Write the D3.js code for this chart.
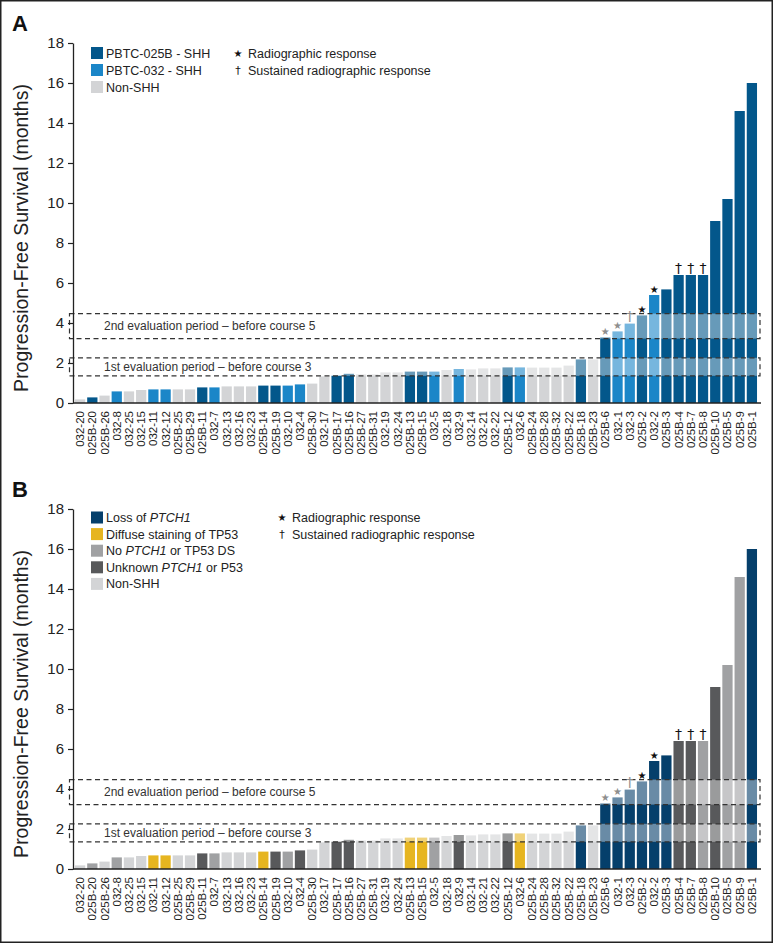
<!DOCTYPE html>
<html><head><meta charset="utf-8">
<script src="https://cdn.jsdelivr.net/npm/d3@7"></script>
<style>
body{margin:0;background:#fff;}
svg{display:block;font-family:"Liberation Sans",Arial,sans-serif;}
</style></head>
<body>
<svg id="chart" width="775" height="943"></svg>
<script>
// ---------- data ----------
const categories = ["032-20","025B-20","025B-26","032-8","032-25","032-15","032-11","032-12","025B-25","025B-29",
"025B-11","032-7","032-13","032-16","032-23","025B-14","025B-19","032-10","032-4","025B-30",
"032-17","025B-17","025B-16","025B-27","025B-31","032-19","032-24","025B-13","025B-15","032-5",
"032-18","032-9","032-14","032-21","032-22","025B-12","032-6","025B-24","025B-28","025B-32",
"025B-22","025B-18","025B-23","025B-6","032-1","032-3","025B-2","032-2","025B-3","025B-4",
"025B-7","025B-8","025B-10","025B-5","025B-9","025B-1"];
const pfsMonths = [0.18,0.28,0.37,0.58,0.58,0.65,0.68,0.68,0.68,0.68,
0.78,0.78,0.83,0.83,0.83,0.87,0.87,0.87,0.93,0.97,
1.33,1.37,1.46,1.43,1.43,1.53,1.53,1.57,1.57,1.57,
1.65,1.70,1.68,1.73,1.73,1.78,1.78,1.77,1.77,1.77,
1.87,2.18,2.18,3.28,3.58,3.97,4.38,5.40,5.68,6.40,
6.40,6.40,9.10,10.20,14.60,16.00];
// panel A group: T = PBTC-025B SHH, S = PBTC-032 SHH, N = non-SHH
const trialGroup = ["N","T","N","S","N","N","S","S","N","N",
"T","S","N","N","N","T","T","S","S","N",
"N","T","T","N","N","N","N","T","T","S",
"N","S","N","N","N","T","S","N","N","N",
"N","T","N","T","S","S","T","S","T","T",
"T","T","T","T","T","T"];
// panel B group: L = loss of PTCH1, P = diffuse TP53, X = no PTCH1/TP53 DS, U = unknown, N = non-SHH
const molecularGroup = ["N","X","N","X","N","N","P","P","N","N",
"U","X","N","N","N","P","U","X","U","N",
"N","U","U","N","N","N","N","P","P","X",
"N","U","N","N","N","U","P","N","N","N",
"N","L","N","L","L","L","L","L","L","U",
"U","X","U","X","X","L"];
// response markers: s = radiographic response, g = grey star, d = sustained (dagger), h = grey dagger
const responseMarks = ["","","","","","","","","","",
"","","","","","","","","","",
"","","","","","","","","","",
"","","","","","","","","","",
"","","","g","g","h","s","s","","d",
"d","d","","","",""];
const yTicks = [0,2,4,6,8,10,12,14,16,18];
const evalBands = [
  {lo:1.36, hi:2.26, label:"1st evaluation period \u2013 before course 3"},
  {lo:3.22, hi:4.47, label:"2nd evaluation period \u2013 before course 5"}
];
const legendA = [
  {key:"T", label:[{t:"PBTC-025B - SHH"}]},
  {key:"S", label:[{t:"PBTC-032 - SHH"}]},
  {key:"N", label:[{t:"Non-SHH"}]}
];
const legendB = [
  {key:"L", label:[{t:"Loss of "},{t:"PTCH1",i:true}]},
  {key:"P", label:[{t:"Diffuse staining of TP53"}]},
  {key:"X", label:[{t:"No "},{t:"PTCH1",i:true},{t:" or TP53 DS"}]},
  {key:"U", label:[{t:"Unknown "},{t:"PTCH1",i:true},{t:" or P53"}]},
  {key:"N", label:[{t:"Non-SHH"}]}
];
const markLegend = [
  {sym:"\u2605", label:"Radiographic response"},
  {sym:"\u2020", label:"Sustained radiographic response"}
];
const colorsA = {T:"#03578b", S:"#1b86c8", N:"#d3d4d6"};
const colorsB = {L:"#053f6b", P:"#e6b520", X:"#a0a1a3", U:"#58595b", N:"#d3d4d6"};

// ---------- drawing ----------
const svg = d3.select("#chart");
svg.append("rect").attr("x",0.75).attr("y",0.75).attr("width",771.5).attr("height",941.5)
  .attr("fill","none").attr("stroke","#222").attr("stroke-width",1.5);

const x = d3.scaleBand().domain(categories).range([74,758]).paddingInner(0.16).paddingOuter(0.08);

function drawPanel(cfg){
  const g = svg.append("g").attr("transform",`translate(0,${cfg.dy})`);
  const y = d3.scaleLinear().domain([0,18]).range([403,43]);
  const data = categories.map((c,i)=>({c, v:pfsMonths[i], grp:cfg.groups[i], m:responseMarks[i]}));

  g.append("text").attr("x",12).attr("y",31).attr("font-size",22).attr("font-weight","bold")
    .attr("fill","#111").text(cfg.letter);

  g.selectAll("rect.bar").data(data).join("rect").attr("class","bar")
    .attr("x",d=>x(d.c)).attr("width",x.bandwidth())
    .attr("y",d=>y(d.v)).attr("height",d=>y(0)-y(d.v))
    .attr("fill",d=>cfg.colors[d.grp]);

  evalBands.forEach(b=>{
    g.append("rect").attr("x",70).attr("width",690).attr("y",y(b.hi)).attr("height",y(b.lo)-y(b.hi))
      .attr("fill","#fff").attr("opacity",0.4);
    g.append("rect").attr("x",69.5).attr("width",690.5).attr("y",y(b.hi)).attr("height",y(b.lo)-y(b.hi))
      .attr("fill","none").attr("stroke","#333").attr("stroke-width",1.2).attr("stroke-dasharray","5,3.5");
    g.append("text").attr("x",104).attr("y",(y(b.hi)+y(b.lo))/2).attr("dy","0.36em")
      .attr("font-size",12).attr("fill","#333").text(b.label);
  });

  const mk = data.filter(d=>d.m);
  g.selectAll("text.mk").data(mk).join("text").attr("class","mk")
    .attr("x",d=>x(d.c)+x.bandwidth()/2)
    .attr("y",d=>y(d.v)-2.5)
    .attr("text-anchor","middle")
    .attr("font-family","DejaVu Sans")
    .attr("font-size",d=>(d.m==="s"||d.m==="g")?10:14)
    .attr("fill",d=>(d.m==="g"||d.m==="h")?"#8e8e8e":"#111")
    .text(d=>(d.m==="s"||d.m==="g")?"\u2605":"\u2020");

  const ya = g.append("g").attr("transform","translate(73,0)")
    .call(d3.axisLeft(y).tickValues(yTicks).tickSize(5).tickSizeOuter(0).tickPadding(4));
  ya.select(".domain").attr("stroke","#222").attr("stroke-width",1.3);
  ya.selectAll(".tick line").attr("stroke","#222").attr("stroke-width",1.2);
  ya.selectAll(".tick text").attr("font-size",15).attr("fill","#222")
    .attr("font-family","'Liberation Sans',Arial,sans-serif");

  g.append("line").attr("x1",73).attr("x2",761).attr("y1",y(0)).attr("y2",y(0))
    .attr("stroke","#222").attr("stroke-width",1.3);

  g.selectAll("text.cat").data(categories).join("text").attr("class","cat")
    .attr("transform",c=>`translate(${x(c)+x.bandwidth()/2},${y(0)+8}) rotate(-90)`)
    .attr("text-anchor","end").attr("dy","0.35em").attr("font-size",11.5).attr("fill","#222")
    .text(c=>c);

  g.append("text").attr("transform","translate(28,238) rotate(-90)").attr("text-anchor","middle")
    .attr("font-size",19.5).attr("fill","#222").text("Progression-Free Survival (months)");

  const lg = g.append("g");
  cfg.legend.forEach((it,i)=>{
    const yy = cfg.legY + i*cfg.legStep;
    lg.append("rect").attr("x",91).attr("y",yy-6).attr("width",12).attr("height",12).attr("fill",cfg.colors[it.key]);
    const t = lg.append("text").attr("x",106).attr("y",yy).attr("dy","0.36em").attr("font-size",12.5).attr("fill","#222");
    it.label.forEach(p=>t.append("tspan").attr("font-style",p.i?"italic":"normal").text(p.t));
  });
  markLegend.forEach((it,i)=>{
    const yy = cfg.legY + i*cfg.legStep;
    lg.append("text").attr("x",cfg.mkX).attr("y",yy).attr("dy","0.36em").attr("text-anchor","middle")
      .attr("font-family","DejaVu Sans").attr("font-size",i===0?10:11).attr("fill","#111").text(it.sym);
    lg.append("text").attr("x",cfg.mkX+10).attr("y",yy).attr("dy","0.36em").attr("font-size",12.5)
      .attr("fill","#222").text(it.label);
  });
}

drawPanel({dy:0, letter:"A", groups:trialGroup, colors:colorsA, legend:legendA, legY:53, legStep:17, mkX:238});
drawPanel({dy:466, letter:"B", groups:molecularGroup, colors:colorsB, legend:legendB, legY:51.5, legStep:16.6, mkX:282});
</script>
</body></html>
